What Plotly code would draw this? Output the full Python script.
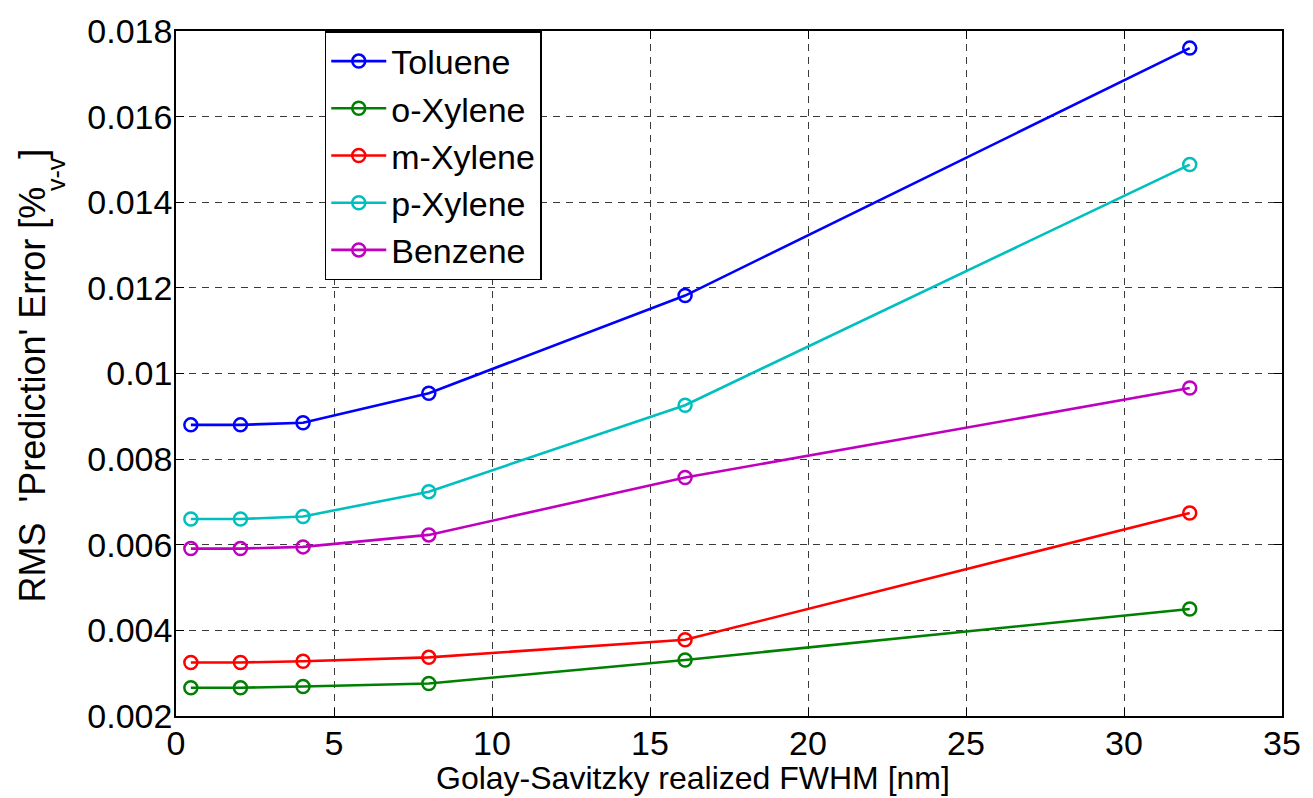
import plotly.graph_objects as go

# ---- data ----
fwhm = [0.47, 2.04, 4.02, 8.0, 16.11, 32.08]

series_names = ["Toluene", "o-Xylene", "m-Xylene", "p-Xylene", "Benzene"]
toluene = [0.00880, 0.00880, 0.00885, 0.00954, 0.01182, 0.01760]
o_xylene = [0.00266, 0.00266, 0.00269, 0.00276, 0.00331, 0.00450]
m_xylene = [0.00325, 0.00325, 0.00328, 0.00337, 0.00378, 0.00674]
p_xylene = [0.00660, 0.00660, 0.00666, 0.00724, 0.00926, 0.01488]
benzene = [0.00591, 0.00591, 0.00595, 0.00623, 0.00757, 0.00966]

series_values = [toluene, o_xylene, m_xylene, p_xylene, benzene]
series_colors = ["#0000FF", "#008000", "#FF0000", "#00BFBF", "#BF00BF"]

x_tick_vals = [0, 5, 10, 15, 20, 25, 30, 35]
y_tick_vals = [0.002, 0.004, 0.006, 0.008, 0.010, 0.012, 0.014, 0.016, 0.018]
y_tick_text = ["0.002", "0.004", "0.006", "0.008", "0.01", "0.012", "0.014", "0.016", "0.018"]

x_title = "Golay-Savitzky realized FWHM [nm]"
y_title_main = "RMS  'Prediction' Error [%"
y_title_sub = "v-v"
y_title_close = "]"

FONT = "Liberation Sans, Arial, Helvetica, sans-serif"

fig = go.Figure()
for i, (name, vals, col) in enumerate(zip(series_names, series_values, series_colors)):
    fig.add_trace(go.Scatter(
        x=fwhm, y=vals, name=name, mode="lines+markers",
        line=dict(color=col, width=2.6),
        marker=dict(symbol="circle-open", size=13, color=col, line=dict(width=2.5, color=col)),
        legendgroup=f"g{i}",
    ))

axis_common = dict(
    showline=True, linecolor="black", linewidth=1.5, mirror="ticks",
    ticks="inside", ticklen=8, tickcolor="black", tickwidth=1,
    showgrid=True, gridcolor="#3a3a3a", gridwidth=1, griddash="7px,6px",
    zeroline=False,
    tickfont=dict(family=FONT, size=34, color="black"),
)

fig.update_xaxes(range=[0, 35], tickvals=x_tick_vals, ticklabelstandoff=-4, **axis_common)
fig.update_yaxes(range=[0.002, 0.018], tickvals=y_tick_vals, ticktext=y_tick_text,
                 ticklabelstandoff=-5, **axis_common)

# y-axis title built from three rotated pieces (main text, subscript, closing bracket)
fig.add_annotation(
    text=y_title_main, xref="paper", yref="paper",
    x=-0.1300, y=0.1645, xanchor="center", yanchor="bottom", showarrow=False,
    textangle=-90, borderpad=0,
    font=dict(family=FONT, size=36, color="black"),
)
fig.add_annotation(
    text=y_title_sub, xref="paper", yref="paper",
    x=-0.1085, y=0.7648, xanchor="center", yanchor="bottom", showarrow=False,
    textangle=-90, borderpad=0,
    font=dict(family=FONT, size=25, color="black"),
)
fig.add_annotation(
    text=y_title_close, xref="paper", yref="paper",
    x=-0.1300, y=0.8124, xanchor="center", yanchor="bottom", showarrow=False,
    textangle=-90, borderpad=0,
    font=dict(family=FONT, size=36, color="black"),
)

fig.add_annotation(
    text=x_title, xref="paper", yref="paper",
    x=0.4674, y=-0.090, xanchor="center", yanchor="middle", showarrow=False,
    font=dict(family=FONT, size=32, color="black"),
)

fig.update_layout(
    width=1313, height=798,
    margin=dict(l=176, r=26, t=23, b=82),
    paper_bgcolor="white", plot_bgcolor="white",
    showlegend=True,
    legend=dict(
        x=0.1345, y=1.0, xanchor="left", yanchor="top",
        bgcolor="white", bordercolor="black", borderwidth=1.5,
        font=dict(family=FONT, size=34, color="black"),
        traceorder="grouped", tracegroupgap=0,
        itemwidth=55,
    ),
)

fig.write_html("out.html")
